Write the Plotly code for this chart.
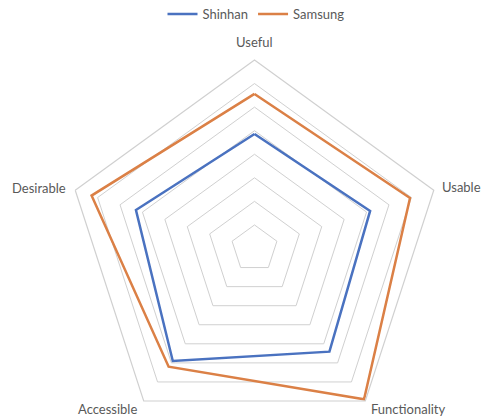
import plotly.graph_objects as go

categories = ["Useful", "Usable", "Functionality", "Accessible", "Desirable"]
shinhan = [4.86, 5.16, 5.41, 5.9, 5.29]
samsung = [6.56, 6.94, 7.91, 6.2, 7.27]

BLUE = "#4A72C0"
ORANGE = "#DB8046"
GRID = "#D0D0D0"
TEXT = "#595959"

# plot area (pixels) used to convert label positions to paper coords
L, R, T, B, H, W = 66, 46, 60, 8, 445, 489
PW, PH = W - L - R, H - T - B

def px(x):
    return (x - L) / PW

def py(y):
    return (H - B - y) / PH

label_pos = [(254, 42), (461.5, 187), (408, 409), (107.5, 409), (39, 187.5)]

fig = go.Figure()
for name, vals, col in [("Shinhan", shinhan, BLUE), ("Samsung", samsung, ORANGE)]:
    fig.add_trace(go.Scatterpolar(
        r=vals + vals[:1], theta=categories + categories[:1], name=name,
        mode="lines", line=dict(color=col, width=2.5),
    ))

for cat, (x, y) in zip(categories, label_pos):
    fig.add_annotation(text=cat, x=px(x), y=py(y), xref="paper", yref="paper",
                       xanchor="center", yanchor="middle", showarrow=False,
                       font=dict(size=13, color=TEXT))

fig.update_layout(
    width=W, height=H,
    margin=dict(l=L, r=R, t=T, b=B, autoexpand=False),
    paper_bgcolor="white",
    font=dict(family="Lato, 'Noto Sans', sans-serif", size=13, color=TEXT),
    polar=dict(
        bgcolor="white",
        gridshape="linear",
        radialaxis=dict(range=[0, 8], dtick=1, showticklabels=False, ticks="",
                        showline=False, gridcolor=GRID, gridwidth=1.2),
        angularaxis=dict(direction="clockwise", rotation=90, showgrid=False,
                         showticklabels=False, showline=True, linecolor=GRID,
                         linewidth=1.2, ticks=""),
    ),
    legend=dict(orientation="h", x=px(256), xanchor="center", y=py(14), yanchor="middle",
                font=dict(size=13, color=TEXT)),
)

fig.write_html("out.html",
               post_script="document.documentElement.style.overflow='hidden';document.body.style.overflow='hidden';")
